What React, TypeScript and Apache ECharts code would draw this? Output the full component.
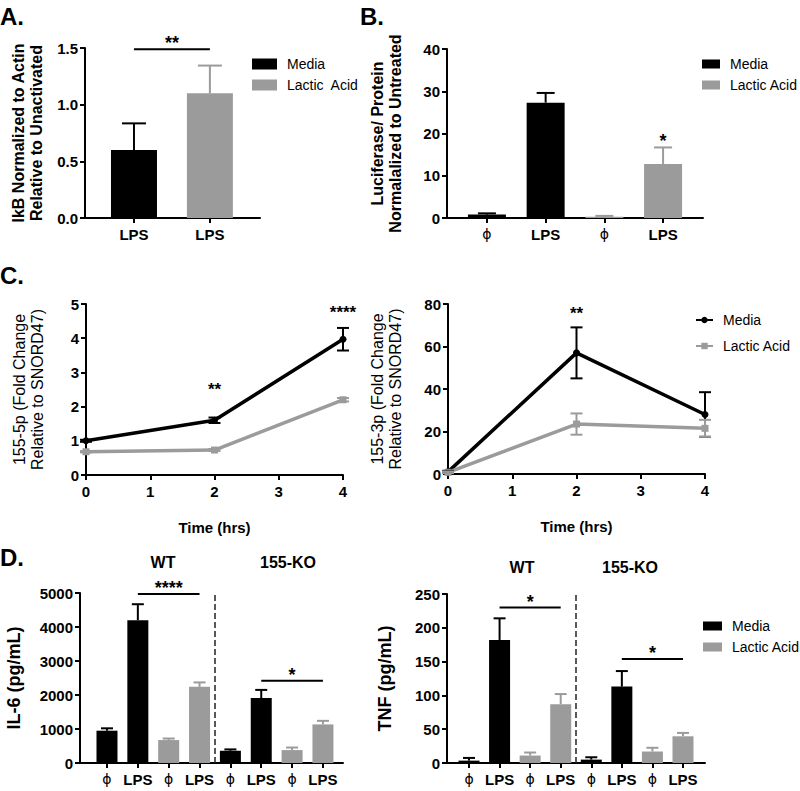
import React, { useEffect, useRef } from 'react';
import * as echarts from 'echarts';

const BLACK = '#000000';
const GRAY = '#9b9b9b';
const FONT = 'Arial, "Liberation Sans", Helvetica, sans-serif';

// ---------- Panel A ----------
const A_TICKS = [1, 2];
const A_TICK_LABELS = ['LPS', 'LPS'];
const A_MEDIA_POS = [1];
const A_MEDIA = [0.6];
const A_MEDIA_ERR = [0.235];
const A_LACTIC_POS = [2];
const A_LACTIC = [1.1];
const A_LACTIC_ERR = [0.245];
const A_SIG_X1 = [1];
const A_SIG_X2 = [2];
const A_SIG_Y = [1.49];
const A_SIG_TEXT = ['**'];

// ---------- Panel B ----------
const B_TICKS = [1, 2, 3, 4];
const B_TICK_LABELS = ['ϕ', 'LPS', 'ϕ', 'LPS'];
const B_MEDIA_POS = [1, 2];
const B_MEDIA = [0.8, 27.3];
const B_MEDIA_ERR = [0.3, 2.3];
const B_LACTIC_POS = [3, 4];
const B_LACTIC = [0.3, 12.8];
const B_LACTIC_ERR = [0.2, 3.9];
const B_SIG_X1 = [4];
const B_SIG_X2 = [4];
const B_SIG_Y = [19.3];
const B_SIG_TEXT = ['*'];

// ---------- Panel C ----------
const C_TIME = [0, 2, 4];
const C5P_MEDIA = [1.0, 1.6, 3.97];
const C5P_MEDIA_ERR = [0.03, 0.08, 0.33];
const C5P_LACTIC = [0.68, 0.73, 2.2];
const C5P_LACTIC_ERR = [0.02, 0.03, 0.05];
const C5P_SIG_X = [2, 4];
const C5P_SIG_Y = [2.62, 4.88];
const C5P_SIG_TEXT = ['**', '****'];

const C3P_MEDIA = [1.0, 57, 28];
const C3P_MEDIA_ERR = [0.5, 12, 10.5];
const C3P_LACTIC = [0.8, 23.5, 21.5];
const C3P_LACTIC_ERR = [0.4, 5, 4];
const C3P_SIG_X = [2];
const C3P_SIG_Y = [77.5];
const C3P_SIG_TEXT = ['**'];

// ---------- Panel D ----------
const D_TICKS = [1, 2, 3, 4, 5, 6, 7, 8];
const D_TICK_LABELS = ['ϕ', 'LPS', 'ϕ', 'LPS', 'ϕ', 'LPS', 'ϕ', 'LPS'];
const D_MEDIA_POS = [1, 2, 5, 6];
const D_LACTIC_POS = [3, 4, 7, 8];
const D_DIVIDER = 4.5;

const IL6_MEDIA = [950, 4200, 360, 1910];
const IL6_MEDIA_ERR = [70, 470, 40, 240];
const IL6_LACTIC = [675, 2240, 380, 1135];
const IL6_LACTIC_ERR = [45, 130, 75, 105];
const IL6_SIG_X1 = [2, 6];
const IL6_SIG_X2 = [4, 8];
const IL6_SIG_Y = [4970, 2420];
const IL6_SIG_TEXT = ['****', '*'];

const TNF_MEDIA = [3.5, 182, 5, 113];
const TNF_MEDIA_ERR = [4, 32, 3.5, 23];
const TNF_LACTIC = [11, 87, 17, 39.5];
const TNF_LACTIC_ERR = [4.5, 15, 5.5, 5];
const TNF_SIG_X1 = [2, 6];
const TNF_SIG_X2 = [4, 8];
const TNF_SIG_Y = [230, 154];
const TNF_SIG_TEXT = ['*', '*'];

const axisLineStyle = { color: BLACK, width: 2 };

function yAxis(gridIndex: number, max: number, interval: number, name: string, nameGap: number, bold: boolean, nameSize = 16, fmt?: (v: number) => string) {
  return {
    type: 'value', gridIndex, min: 0, max, interval,
    name, nameLocation: 'middle', nameGap,
    nameTextStyle: { fontFamily: FONT, fontSize: nameSize, fontWeight: bold ? 'bold' : 'normal', color: BLACK, lineHeight: nameSize + 2 },
    axisLine: { show: true, onZero: false, lineStyle: axisLineStyle },
    axisTick: { show: true, length: 5, lineStyle: axisLineStyle },
    axisLabel: { fontFamily: FONT, fontSize: 15, fontWeight: 'bold', color: BLACK, margin: 7, formatter: fmt || ((v: number) => String(v)) },
    splitLine: { show: false },
  };
}

function xCatAxis(gridIndex: number, min: number, max: number, ticks: number[], labels: string[], fontSize = 15) {
  return {
    type: 'value', gridIndex, min, max,
    axisLine: { show: true, onZero: false, lineStyle: axisLineStyle },
    axisTick: { show: true, length: 5, customValues: ticks, lineStyle: axisLineStyle },
    axisLabel: {
      customValues: ticks, margin: 9,
      formatter: (v: number) => {
        const i = ticks.indexOf(v);
        if (i < 0) return '';
        return labels[i] === 'ϕ' ? '{p|ϕ}' : '{b|' + labels[i] + '}';
      },
      rich: {
        p: { fontFamily: '"DejaVu Sans", sans-serif', fontSize: fontSize - 1, fontWeight: 'normal', color: BLACK },
        b: { fontFamily: FONT, fontSize, fontWeight: 'bold', color: BLACK },
      },
    },
    splitLine: { show: false },
  };
}

function xTimeAxis(gridIndex: number) {
  return {
    type: 'value', gridIndex, min: 0, max: 4, interval: 1,
    name: 'Time (hrs)', nameLocation: 'middle', nameGap: 45,
    nameTextStyle: { fontFamily: FONT, fontSize: 15, fontWeight: 'bold', color: BLACK },
    axisLine: { show: true, onZero: false, lineStyle: axisLineStyle },
    axisTick: { show: true, length: 5, lineStyle: axisLineStyle },
    axisLabel: { fontFamily: FONT, fontSize: 15, fontWeight: 'bold', color: BLACK, margin: 9 },
    splitLine: { show: false },
  };
}

function barSeries(name: string, idx: number, pos: number[], vals: number[], color: string, width: number, extra: any = {}) {
  return {
    type: 'bar', name, xAxisIndex: idx, yAxisIndex: idx,
    data: pos.map((p, i) => [p, vals[i]]),
    barWidth: width, barGap: '-100%', itemStyle: { color }, z: 2, ...extra,
  };
}

function errSeries(idx: number, pos: number[], vals: number[], errs: number[], color: string, capW: number, both: boolean) {
  return {
    type: 'custom', xAxisIndex: idx, yAxisIndex: idx, z: 4, clip: false,
    data: pos.map((p, i) => [p, vals[i], errs[i]]),
    renderItem: (params: any, api: any) => {
      const x = api.value(0);
      const v = api.value(1);
      const e = api.value(2);
      const top = api.coord([x, v + e]);
      const bot = api.coord([x, both ? v - e : v]);
      const st = { stroke: color, lineWidth: 2 };
      const ch: any[] = [
        { type: 'line', shape: { x1: top[0], y1: bot[1], x2: top[0], y2: top[1] }, style: st },
        { type: 'line', shape: { x1: top[0] - capW / 2, y1: top[1], x2: top[0] + capW / 2, y2: top[1] }, style: st },
      ];
      if (both) ch.push({ type: 'line', shape: { x1: top[0] - capW / 2, y1: bot[1], x2: top[0] + capW / 2, y2: bot[1] }, style: st });
      return { type: 'group', children: ch };
    },
  };
}

function sigSeries(idx: number, x1: number[], x2: number[], ys: number[], texts: string[], fontSize: number) {
  return {
    type: 'custom', xAxisIndex: idx, yAxisIndex: idx, z: 5, clip: false,
    data: x1.map((a, i) => [a, x2[i], ys[i]]),
    renderItem: (params: any, api: any) => {
      const a = api.value(0);
      const b = api.value(1);
      const y = api.value(2);
      const p1 = api.coord([a, y]);
      const p2 = api.coord([b, y]);
      const hasLine = a !== b;
      const ch: any[] = [];
      if (hasLine) ch.push({ type: 'line', shape: { x1: p1[0], y1: p1[1], x2: p2[0], y2: p2[1] }, style: { stroke: BLACK, lineWidth: 2 } });
      ch.push({
        type: 'text', x: (p1[0] + p2[0]) / 2, y: hasLine ? p1[1] + 3 : p1[1] + fontSize * 0.25,
        style: { text: texts[params.dataIndex], fill: BLACK, font: `bold ${fontSize}px ${FONT}`, align: 'center', verticalAlign: hasLine ? 'bottom' : 'middle' },
      });
      return { type: 'group', children: ch };
    },
  };
}

function lineSeries(name: string, idx: number, xs: number[], vals: number[], color: string, symbol: string) {
  return {
    type: 'line', name, xAxisIndex: idx, yAxisIndex: idx,
    data: xs.map((x, i) => [x, vals[i]]),
    symbol, symbolSize: 7, showSymbol: true,
    lineStyle: { width: 3.5, color }, itemStyle: { color }, z: 3,
  };
}

const legendText = { fontFamily: FONT, fontSize: 14, color: BLACK, padding: [0, 0, 0, 5] };
const rectLegendData = [{ name: 'Media', icon: 'rect' }, { name: 'Lactic Acid', icon: 'rect' }];

export default function App() {
  const ref = useRef<HTMLDivElement>(null);
  useEffect(() => {
    if (!ref.current) return;
    const chart = echarts.init(ref.current, undefined, { renderer: 'svg' });
    const markDivider = {
      markLine: {
        silent: true, symbol: 'none', label: { show: false },
        lineStyle: { type: 'dashed', color: '#222', width: 1.5 },
        data: [{ xAxis: D_DIVIDER }],
      },
    };
    const option: any = {
      animation: false,
      backgroundColor: '#ffffff',
      textStyle: { fontFamily: FONT },
      grid: [
        { left: 85, top: 48, width: 175, height: 170 },   // A
        { left: 447, top: 49, width: 256, height: 169 },  // B
        { left: 86, top: 304, width: 257, height: 171 },  // C left
        { left: 448, top: 304, width: 257, height: 170 }, // C right
        { left: 80, top: 593, width: 263, height: 170 },  // D left
        { left: 447, top: 594, width: 258, height: 169 }, // D right
      ],
      xAxis: [
        xCatAxis(0, 0.355, 2.66, A_TICKS, A_TICK_LABELS),
        xCatAxis(1, 0.32, 4.68, B_TICKS, B_TICK_LABELS),
        xTimeAxis(2),
        xTimeAxis(3),
        xCatAxis(4, 0.125, 8.65, D_TICKS, D_TICK_LABELS),
        xCatAxis(5, 0.28, 8.72, D_TICKS, D_TICK_LABELS),
      ],
      yAxis: [
        yAxis(0, 1.5, 0.5, 'IkB Normalized to Actin\nRelative to Unactivated', 40, true, 16, (v: number) => v.toFixed(1)),
        yAxis(1, 40, 10, 'Luciferase/ Protein\nNormalalized to Untreated', 43, true, 16),
        yAxis(2, 5, 1, '155-5p (Fold Change\nRelative to SNORD47)', 40, false, 16),
        yAxis(3, 80, 20, '155-3p (Fold Change\nRelative to SNORD47)', 44, false, 16),
        yAxis(4, 5000, 1000, 'IL-6 (pg/mL)', 56, true, 18),
        yAxis(5, 250, 50, 'TNF (pg/mL)', 52, true, 18),
      ],
      legend: [
        {
          left: 247, top: 52, orient: 'vertical', itemWidth: 25, itemHeight: 11, itemGap: 7, selectedMode: false,
          data: rectLegendData, textStyle: legendText,
          formatter: (n: string) => (n === 'Lactic Acid' ? 'Lactic  Acid' : n),
        },
        {
          left: 697, top: 52, orient: 'vertical', itemWidth: 18, itemHeight: 9, itemGap: 7, selectedMode: false,
          data: rectLegendData, textStyle: legendText,
        },
        {
          left: 690, top: 308, orient: 'vertical', itemWidth: 17, itemHeight: 8, itemGap: 12, selectedMode: false,
          data: ['Media', 'Lactic Acid'], textStyle: legendText,
        },
        {
          left: 698, top: 614, orient: 'vertical', itemWidth: 19, itemHeight: 9, itemGap: 7, selectedMode: false,
          data: rectLegendData, textStyle: legendText,
        },
      ],
      graphic: [
        { type: 'text', left: 0, top: 4, style: { text: 'A.', font: `bold 24px ${FONT}`, fill: BLACK } },
        { type: 'text', left: 360, top: 4, style: { text: 'B.', font: `bold 24px ${FONT}`, fill: BLACK } },
        { type: 'text', left: 0, top: 263, style: { text: 'C.', font: `bold 24px ${FONT}`, fill: BLACK } },
        { type: 'text', left: 0, top: 545, style: { text: 'D.', font: `bold 24px ${FONT}`, fill: BLACK } },
        { type: 'text', x: 163, y: 562, style: { text: 'WT', font: `bold 16px ${FONT}`, fill: BLACK, align: 'center', verticalAlign: 'middle' } },
        { type: 'text', x: 288, y: 562, style: { text: '155-KO', font: `bold 16px ${FONT}`, fill: BLACK, align: 'center', verticalAlign: 'middle' } },
        { type: 'text', x: 522, y: 567, style: { text: 'WT', font: `bold 16px ${FONT}`, fill: BLACK, align: 'center', verticalAlign: 'middle' } },
        { type: 'text', x: 630, y: 567, style: { text: '155-KO', font: `bold 16px ${FONT}`, fill: BLACK, align: 'center', verticalAlign: 'middle' } },
      ],
      series: [
        // Panel C (line series first so the C legend shows line icons)
        lineSeries('Media', 2, C_TIME, C5P_MEDIA, BLACK, 'circle'),
        lineSeries('Lactic Acid', 2, C_TIME, C5P_LACTIC, GRAY, 'rect'),
        errSeries(2, C_TIME, C5P_MEDIA, C5P_MEDIA_ERR, BLACK, 12, true),
        errSeries(2, C_TIME, C5P_LACTIC, C5P_LACTIC_ERR, GRAY, 12, true),
        sigSeries(2, C5P_SIG_X, C5P_SIG_X, C5P_SIG_Y, C5P_SIG_TEXT, 17),
        lineSeries('Media', 3, C_TIME, C3P_MEDIA, BLACK, 'circle'),
        lineSeries('Lactic Acid', 3, C_TIME, C3P_LACTIC, GRAY, 'rect'),
        errSeries(3, C_TIME, C3P_MEDIA, C3P_MEDIA_ERR, BLACK, 12, true),
        errSeries(3, C_TIME, C3P_LACTIC, C3P_LACTIC_ERR, GRAY, 12, true),
        sigSeries(3, C3P_SIG_X, C3P_SIG_X, C3P_SIG_Y, C3P_SIG_TEXT, 17),
        // Panel A
        barSeries('Media', 0, A_MEDIA_POS, A_MEDIA, BLACK, 46),
        barSeries('Lactic Acid', 0, A_LACTIC_POS, A_LACTIC, GRAY, 46),
        errSeries(0, A_MEDIA_POS, A_MEDIA, A_MEDIA_ERR, BLACK, 24, false),
        errSeries(0, A_LACTIC_POS, A_LACTIC, A_LACTIC_ERR, GRAY, 24, false),
        sigSeries(0, A_SIG_X1, A_SIG_X2, A_SIG_Y, A_SIG_TEXT, 18),
        // Panel B
        barSeries('Media', 1, B_MEDIA_POS, B_MEDIA, BLACK, 38),
        barSeries('Lactic Acid', 1, B_LACTIC_POS, B_LACTIC, GRAY, 38),
        errSeries(1, B_MEDIA_POS, B_MEDIA, B_MEDIA_ERR, BLACK, 18, false),
        errSeries(1, B_LACTIC_POS, B_LACTIC, B_LACTIC_ERR, GRAY, 18, false),
        sigSeries(1, B_SIG_X1, B_SIG_X2, B_SIG_Y, B_SIG_TEXT, 18),
        // Panel D left (IL-6)
        barSeries('Media', 4, D_MEDIA_POS, IL6_MEDIA, BLACK, 21, markDivider),
        barSeries('Lactic Acid', 4, D_LACTIC_POS, IL6_LACTIC, GRAY, 21),
        errSeries(4, D_MEDIA_POS, IL6_MEDIA, IL6_MEDIA_ERR, BLACK, 12, false),
        errSeries(4, D_LACTIC_POS, IL6_LACTIC, IL6_LACTIC_ERR, GRAY, 12, false),
        sigSeries(4, IL6_SIG_X1, IL6_SIG_X2, IL6_SIG_Y, IL6_SIG_TEXT, 18),
        // Panel D right (TNF)
        barSeries('Media', 5, D_MEDIA_POS, TNF_MEDIA, BLACK, 21, markDivider),
        barSeries('Lactic Acid', 5, D_LACTIC_POS, TNF_LACTIC, GRAY, 21),
        errSeries(5, D_MEDIA_POS, TNF_MEDIA, TNF_MEDIA_ERR, BLACK, 12, false),
        errSeries(5, D_LACTIC_POS, TNF_LACTIC, TNF_LACTIC_ERR, GRAY, 12, false),
        sigSeries(5, TNF_SIG_X1, TNF_SIG_X2, TNF_SIG_Y, TNF_SIG_TEXT, 18),
      ],
    };
    chart.setOption(option);
    return () => chart.dispose();
  }, []);
  return <div ref={ref} style={{ position: 'fixed', left: 0, top: 0, width: 800, height: 791, background: '#fff' }} />;
}
